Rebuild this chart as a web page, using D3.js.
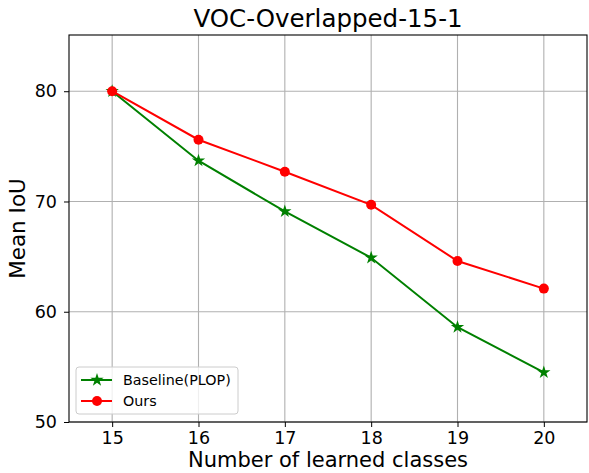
<!DOCTYPE html>
<html><head><meta charset="utf-8">
<script src="https://cdn.jsdelivr.net/npm/d3@7"></script>
<style>body{margin:0;background:#fff}svg{display:block;font-family:"DejaVu Sans",sans-serif}</style>
</head><body>
<svg id="c" width="589" height="473"></svg>
<script>
const classes = [15, 16, 17, 18, 19, 20];
const baseline = [80.0, 73.7, 69.1, 64.9, 58.6, 54.5];
const ours = [80.0, 75.6, 72.7, 69.7, 64.6, 62.1];
const yTicks = [50, 60, 70, 80];
const seriesNames = ["Baseline(PLOP)", "Ours"];

const svg = d3.select("#c");
const L = 69, R = 587, T = 35, B = 422;
const x = d3.scaleLinear().domain([14.5, 20.5]).range([L, R]);
const y = d3.scaleLinear().domain([50, 85.1]).range([B, T]);

// grid
const g = svg.append("g");
g.selectAll(".gx").data(classes).join("line")
  .attr("x1", d => x(d)).attr("x2", d => x(d)).attr("y1", T).attr("y2", B)
  .attr("stroke", "#b0b0b0").attr("stroke-width", 1.1);
g.selectAll(".gy").data(yTicks).join("line")
  .attr("x1", L).attr("x2", R).attr("y1", d => y(d)).attr("y2", d => y(d))
  .attr("stroke", "#b0b0b0").attr("stroke-width", 1.1);

// axes
const xa = svg.append("g").attr("transform", `translate(0,${B})`)
  .call(d3.axisBottom(x).tickValues(classes).tickSize(5).tickPadding(5).tickFormat(d3.format("d")));
const ya = svg.append("g").attr("transform", `translate(${L},0)`)
  .call(d3.axisLeft(y).tickValues(yTicks).tickSize(5).tickPadding(7).tickFormat(d3.format("d")));
[xa, ya].forEach(a => {
  a.select(".domain").remove();
  a.selectAll("text").attr("font-size", 17.5).attr("fill", "#000").attr("font-family", "DejaVu Sans");
  a.selectAll("line").attr("stroke", "#000");
});
svg.append("rect").attr("x", L).attr("y", T).attr("width", R - L).attr("height", B - T)
  .attr("fill", "none").attr("stroke", "#000").attr("stroke-width", 1.1);

// lines
const line = d3.line().x((d, i) => x(classes[i])).y(d => y(d));
svg.append("path").datum(baseline).attr("d", line).attr("fill", "none").attr("stroke", "green").attr("stroke-width", 2);
svg.append("path").datum(ours).attr("d", line).attr("fill", "none").attr("stroke", "red").attr("stroke-width", 2);

const star = d3.symbol().type(d3.symbolStar).size(55);
svg.selectAll(".bs").data(baseline).join("path")
  .attr("transform", (d, i) => `translate(${x(classes[i])},${y(d)})`)
  .attr("d", star).attr("fill", "green");
svg.selectAll(".os").data(ours).join("circle")
  .attr("cx", (d, i) => x(classes[i])).attr("cy", d => y(d)).attr("r", 5).attr("fill", "red");

// title and labels
svg.append("text").attr("x", (L + R) / 2).attr("y", 27).attr("text-anchor", "middle")
  .attr("font-size", 24.5).text("VOC-Overlapped-15-1");
svg.append("text").attr("x", (L + R) / 2).attr("y", 467).attr("text-anchor", "middle")
  .attr("font-size", 21).text("Number of learned classes");
svg.append("text").attr("transform", `translate(25,${(T + B) / 2}) rotate(-90)`).attr("text-anchor", "middle")
  .attr("font-size", 21.5).text("Mean IoU");

// legend
const lg = svg.append("g").attr("transform", "translate(76,367)");
lg.append("rect").attr("width", 162).attr("height", 47).attr("rx", 3)
  .attr("fill", "#fff").attr("fill-opacity", 0.8).attr("stroke", "#ccc");
const cols = ["green", "red"];
seriesNames.forEach((n, i) => {
  const yy = 13 + i * 21;
  lg.append("line").attr("x1", 5).attr("x2", 36).attr("y1", yy).attr("y2", yy).attr("stroke", cols[i]).attr("stroke-width", 2);
  if (i === 0) lg.append("path").attr("transform", `translate(21,${yy})`).attr("d", star).attr("fill", "green");
  else lg.append("circle").attr("cx", 21).attr("cy", yy).attr("r", 5).attr("fill", "red");
  lg.append("text").attr("x", 47).attr("y", yy + 5).attr("font-size", 14.3).text(n);
});
</script>
</body></html>
